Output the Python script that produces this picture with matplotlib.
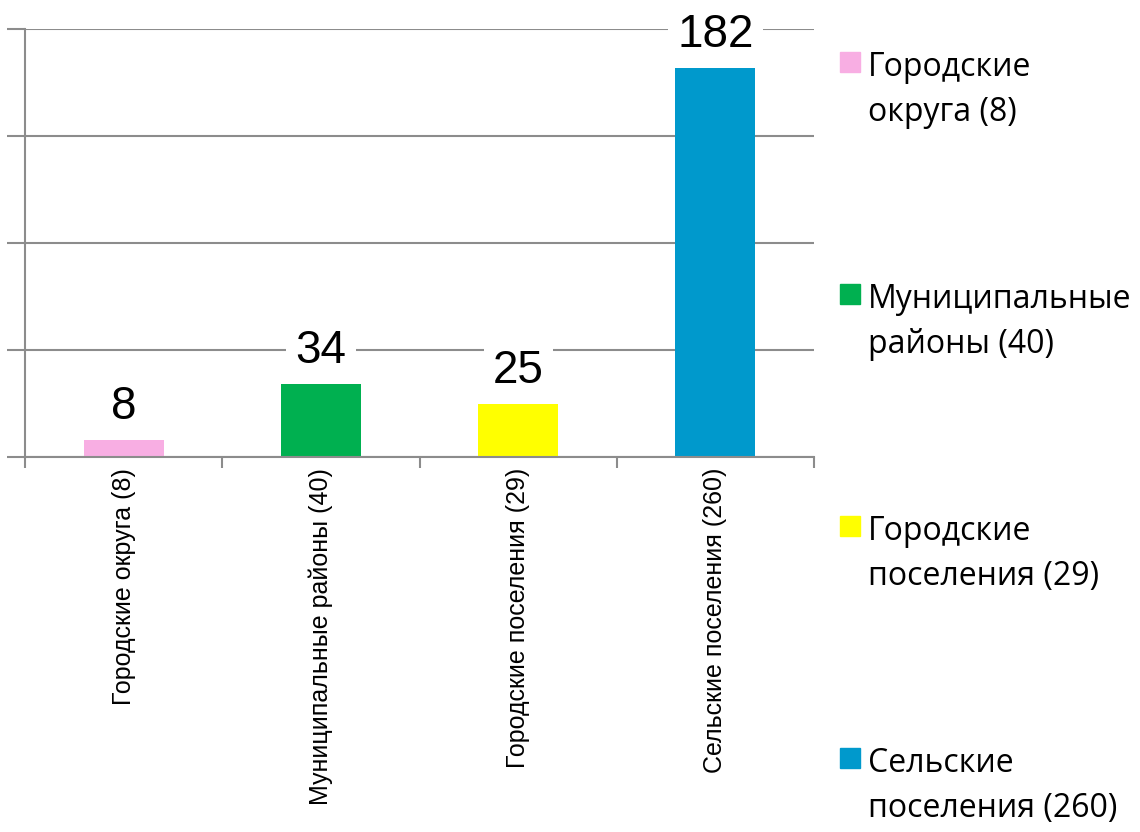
import matplotlib
matplotlib.use("Agg")
import matplotlib.pyplot as plt
from matplotlib.patches import Rectangle

categories = ["Городские округа (8)", "Муниципальные районы (40)",
              "Городские поселения (29)", "Сельские поселения (260)"]
values = [8, 34, 25, 182]
colors = ["#F8AEE3", "#00B050", "#FFFF00", "#0099CC"]
legend_labels = [["Городские", "округа (8)"], ["Муниципальные", "районы (40)"],
                 ["Городские", "поселения (29)"], ["Сельские", "поселения (260)"]]

fig = plt.figure(figsize=(11.4, 8.32), dpi=100)
ax = fig.add_axes([25/1140, 1-457/832, (814-25)/1140, (457-29)/832])

x = list(range(len(categories)))
ax.bar(x, values, width=0.405, color=colors, zorder=2)
ax.set_xlim(-0.5, len(categories)-0.5)
ax.set_ylim(0, 200)
ax.set_yticks([0, 50, 100, 150, 200])
ax.set_yticklabels([])
ax.yaxis.grid(True, color="#8C8C8C", linewidth=1.5)
ax.set_axisbelow(True)
for s in ["top", "right"]:
    ax.spines[s].set_visible(False)
for s in ["left", "bottom"]:
    ax.spines[s].set_color("#8C8C8C")
    ax.spines[s].set_linewidth(1.5)
ax.tick_params(axis="y", length=13, width=1.5, color="#8C8C8C", direction="out")
ax.set_xticks([i - 0.5 for i in range(len(categories)+1)], minor=False)
ax.set_xticklabels([])
ax.tick_params(axis="x", which="major", length=8, width=1.5, color="#8C8C8C")
ax.set_xticks(x, minor=True)
ax.set_xticklabels(categories, minor=True, rotation=90, fontsize=18,
                   family=["Liberation Sans", "DejaVu Sans"])
ax.tick_params(axis="x", which="minor", length=0, pad=8)

for xi, v in zip(x, values):
    ax.annotate(str(v), (xi, v), xytext=(0, 15), textcoords="offset points",
                ha="center", va="baseline", fontsize=33,
                family=["Liberation Sans", "DejaVu Sans"], zorder=5,
                bbox=dict(boxstyle="square,pad=0.2", fc="white", ec="none"))

# legend
y0 = 52
step = 232
for i, (lines, c) in enumerate(zip(legend_labels, colors)):
    top = y0 + i*step
    fig.patches.append(Rectangle((840/1140, 1-(top+20)/832), 20/1140, 20/832,
                                 transform=fig.transFigure, color=c))
    for j, line in enumerate(lines):
        fig.text(868/1140, 1-(top+24+45*j)/832, line, fontsize=23,
                 family=["Open Sans", "DejaVu Sans"], va="baseline", ha="left")

fig.savefig("out.png", dpi=100)
